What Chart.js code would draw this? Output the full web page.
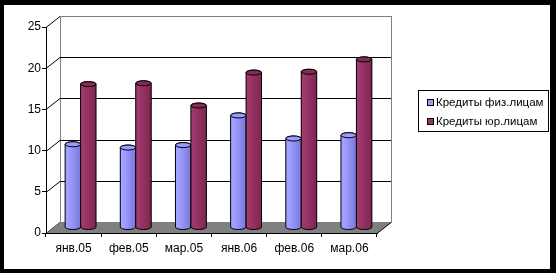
<!DOCTYPE html>
<html>
<head>
<meta charset="utf-8">
<script src="https://cdn.jsdelivr.net/npm/chart.js@4.4.1/dist/chart.umd.min.js"></script>
<style>
  html, body { margin: 0; padding: 0; background: #000; }
  #wrap { width: 556px; height: 273px; }
</style>
</head>
<body>
<div id="wrap"><canvas id="credits" width="556" height="273"></canvas></div>
<script>
const months = ['янв.05', 'фев.05', 'мар.05', 'янв.06', 'фев.06', 'мар.06'];
const individuals = [10.1, 9.7, 10.0, 13.6, 10.8, 11.2];
const companies = [17.4, 17.5, 14.8, 18.8, 18.9, 20.4];
const yTicks = [0, 5, 10, 15, 20, 25];

// 3D depth of the Excel-style box
const DX = 14, DY = -11;
const FONT = 'Liberation Sans, Arial, sans-serif';

const seriesStyle = [
  { fill: '#9999ff', light: '#a8a8ff', dark: '#7878d8', top: '#9a9aff' },
  { fill: '#993366', light: '#a63c72', dark: '#7d2752', top: '#862b58' }
];

const box3d = {
  id: 'box3d',
  beforeDraw(chart) {
    const c = chart.ctx;
    const y = chart.scales.y;
    const a = chart.chartArea;
    c.save();
    // frame
    c.fillStyle = '#000';
    c.fillRect(0, 0, chart.width, chart.height);
    c.fillStyle = '#fff';
    c.fillRect(4, 5, 546, 264);

    const yTop = y.getPixelForValue(25), y0 = y.getPixelForValue(0);
    // back wall
    c.strokeStyle = '#808080';
    c.lineWidth = 1;
    c.strokeRect(a.left + DX + 0.5, yTop + DY + 0.5, a.right - a.left, y0 - yTop);
    // gridlines on back wall + diagonals on left wall
    c.strokeStyle = '#000';
    yTicks.forEach(v => {
      const py = Math.round(y.getPixelForValue(v)) + 0.5;
      if (v > 0 && v < 25) {
        c.beginPath();
        c.moveTo(a.left + DX, py + DY);
        c.lineTo(a.right + DX, py + DY);
        c.stroke();
      }
      c.beginPath();
      c.moveTo(a.left, py);
      c.lineTo(a.left + DX, py + DY);
      c.stroke();
    });
    // floor
    const fy = Math.round(y0) + 0.5;
    c.beginPath();
    c.moveTo(a.left, fy);
    c.lineTo(a.right, fy);
    c.lineTo(a.right + DX, fy + DY);
    c.lineTo(a.left + DX, fy + DY);
    c.closePath();
    c.fillStyle = '#808080';
    c.fill();
    c.strokeStyle = '#000';
    c.beginPath();
    c.moveTo(a.right, fy);
    c.lineTo(a.right + DX, fy + DY);
    c.stroke();
    c.restore();
  },
  beforeDatasetsDraw(chart) {
    chart.ctx.save();
    chart.ctx.translate(DX / 2, DY / 2);
  },
  afterDatasetsDraw(chart) {
    const c = chart.ctx;
    chart.data.datasets.forEach((ds, i) => {
      const st = seriesStyle[i];
      chart.getDatasetMeta(i).data.forEach(bar => {
        const rx = bar.width / 2, ry = 2.5;
        const x = bar.x, top = bar.y, base = bar.base;
        const g = c.createLinearGradient(x - rx, 0, x + rx, 0);
        g.addColorStop(0, st.light);
        g.addColorStop(0.35, st.fill);
        g.addColorStop(1, st.dark);
        c.beginPath();
        c.moveTo(x - rx, top);
        c.lineTo(x - rx, base);
        c.ellipse(x, base, rx, ry, 0, Math.PI, 0, true);
        c.lineTo(x + rx, top);
        c.ellipse(x, top, rx, ry, 0, 0, Math.PI, true);
        c.closePath();
        c.fillStyle = g;
        c.fill();
        c.strokeStyle = '#000';
        c.lineWidth = 1;
        c.stroke();
        c.beginPath();
        c.ellipse(x, top, rx, ry, 0, 0, Math.PI * 2);
        c.fillStyle = st.top;
        c.fill();
        c.stroke();
      });
    });
    c.restore();
  },
  afterDraw(chart) {
    const c = chart.ctx;
    c.save();
    c.strokeStyle = '#000';
    c.lineWidth = 1;
    c.strokeRect(418.5, 90.5, 130, 41);
    c.font = '11.5px ' + FONT;
    c.textBaseline = 'middle';
    chart.data.datasets.forEach((ds, i) => {
      const cy = 103 + i * 19;
      c.fillStyle = ds.backgroundColor;
      c.fillRect(428, cy - 3, 6, 6);
      c.strokeRect(427.5, cy - 3.5, 6, 6);
      c.fillStyle = '#000';
      c.fillText(ds.label, 436, cy);
    });
    c.restore();
  }
};

new Chart(document.getElementById('credits'), {
  type: 'bar',
  data: {
    labels: months,
    datasets: [
      { label: 'Кредиты физ.лицам', data: individuals, backgroundColor: seriesStyle[0].fill },
      { label: 'Кредиты юр.лицам', data: companies, backgroundColor: seriesStyle[1].fill }
    ]
  },
  options: {
    responsive: false,
    animation: false,
    events: [],
    layout: { padding: { left: 0, top: 27, right: 556 - 377, bottom: 0 } },
    datasets: { bar: { categoryPercentage: 0.56, barPercentage: 1, clip: false } },
    plugins: { legend: { display: false }, tooltip: { enabled: false } },
    scales: {
      x: {
        afterFit(s) { s.height = 273 - 233; },
        grid: { drawOnChartArea: false, drawTicks: true, tickLength: 4, color: '#000', offset: true },
        border: { color: '#000' },
        ticks: { color: '#000', padding: 4, font: { family: FONT, size: 12 }, maxRotation: 0 }
      },
      y: {
        min: 0, max: 25,
        afterFit(s) { s.width = 46; },
        afterBuildTicks(s) { s.ticks = yTicks.map(v => ({ value: v })); },
        grid: { drawOnChartArea: false, drawTicks: true, tickLength: 4, color: '#000' },
        border: { color: '#000' },
        ticks: { color: '#000', padding: 1, font: { family: FONT, size: 12 } }
      }
    }
  },
  plugins: [box3d]
});
</script>
</body>
</html>
